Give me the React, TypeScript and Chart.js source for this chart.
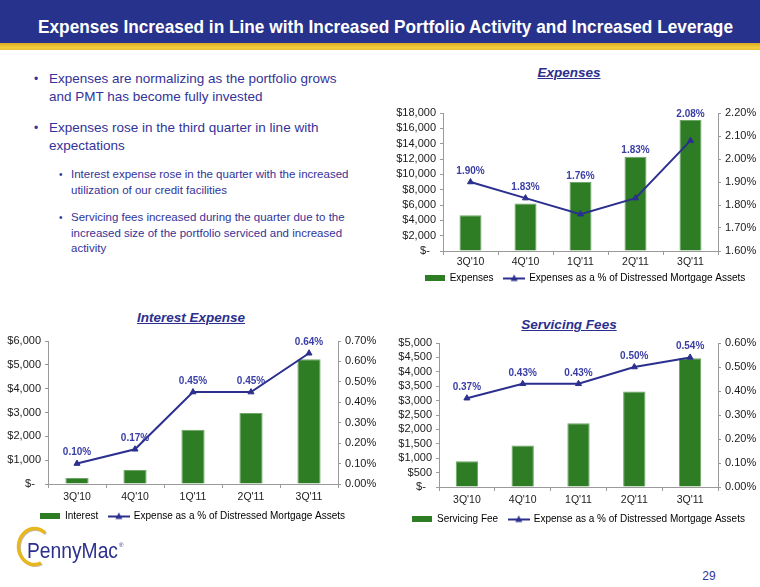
import React, { useEffect, useRef } from 'react';
import { Chart, registerables } from 'chart.js';
Chart.register(...registerables);

// ---------- data ----------
const quarters = ["3Q'10", "4Q'10", "1Q'11", "2Q'11", "3Q'11"];
const expenses = [4650, 6200, 9000, 12300, 17100];
const expensesPct = [1.9, 1.83, 1.76, 1.83, 2.08];
const interest = [250, 590, 2280, 2980, 5230];
const interestPct = [0.1, 0.17, 0.45, 0.45, 0.64];
const servicing = [890, 1440, 2210, 3320, 4470];
const servicingPct = [0.37, 0.43, 0.43, 0.5, 0.54];

const titleText = 'Expenses Increased in Line with Increased Portfolio Activity and Increased Leverage';

// ---------- styles ----------
const BAR_GREEN = '#2E7D25';
const BAR_EDGE = '#6FA566';
const NAVY = '#2B2F8E';
const LABEL_BLUE = '#3A3EA4';
const TEXT_BLUE = '#333399';
const AXIS_GRAY = '#9A9A9A';
const TICK_TEXT = '#1a1a1a';
const FONT = "'Liberation Sans', Arial, sans-serif";

Chart.defaults.font.family = FONT;

function fmtDollar(v: number) {
  if (v === 0) return '$-  ';
  return '$' + String(v).replace(/\B(?=(\d{3})+(?!\d))/g, ',');
}

function barSwatch() {
  const c = document.createElement('canvas');
  c.width = 20; c.height = 6;
  const g = c.getContext('2d')!;
  g.fillStyle = BAR_GREEN;
  g.fillRect(0, 0, 20, 6);
  return c;
}
function lineSwatch() {
  const c = document.createElement('canvas');
  c.width = 22; c.height = 9;
  const g = c.getContext('2d')!;
  g.strokeStyle = NAVY; g.lineWidth = 2;
  g.beginPath(); g.moveTo(0, 5); g.lineTo(22, 5); g.stroke();
  g.fillStyle = NAVY;
  g.beginPath(); g.moveTo(11, 1); g.lineTo(14.5, 7.5); g.lineTo(7.5, 7.5); g.closePath(); g.fill();
  return c;
}

const pctLabelPlugin = {
  id: 'pctLabels',
  afterDatasetsDraw(chart: any) {
    const barMeta = chart.getDatasetMeta(0);
    const lineMeta = chart.getDatasetMeta(1);
    const vals = chart.data.datasets[1].data as number[];
    const ctx = chart.ctx;
    ctx.save();
    ctx.font = `bold 10px ${FONT}`;
    ctx.fillStyle = LABEL_BLUE;
    ctx.textAlign = 'center';
    ctx.textBaseline = 'middle';
    lineMeta.data.forEach((pt: any, i: number) => {
      const bar = barMeta.data[i];
      const y = Math.min(pt.y - 11, bar.y - 6);
      ctx.fillText(vals[i].toFixed(2) + '%', pt.x, y);
    });
    ctx.restore();
  },
};

type PanelProps = {
  left: number; top: number; width: number; height: number;
  leftW: number; rightW: number; xH: number; xPad: number;
  bars: number[]; pct: number[]; barLabel: string; lineLabel: string;
  yMax: number; yStep: number; y1Min: number; y1Max: number;
};

function ChartPanel(p: PanelProps) {
  const ref = useRef<HTMLCanvasElement>(null);
  useEffect(() => {
    const bs = barSwatch();
    const ls = lineSwatch();
    const chart = new Chart(ref.current!, {
      type: 'bar',
      data: {
        labels: quarters,
        datasets: [
          {
            type: 'bar', label: p.barLabel, data: p.bars,
            backgroundColor: BAR_GREEN, borderColor: BAR_EDGE, borderWidth: 1,
            yAxisID: 'y', order: 1, barPercentage: 0.4, categoryPercentage: 1,
          } as any,
          {
            type: 'line', label: p.lineLabel, data: p.pct,
            borderColor: NAVY, backgroundColor: NAVY, borderWidth: 2,
            pointStyle: 'triangle', pointRadius: 3.5, pointBorderWidth: 1, pointBorderColor: NAVY,
            pointBackgroundColor: NAVY, tension: 0, yAxisID: 'y1', order: 0,
          } as any,
        ],
      },
      options: {
        animation: false,
        responsive: false,
        maintainAspectRatio: false,
        layout: { padding: { top: 20, left: 0, right: 0, bottom: 0 } },
        scales: {
          x: {
            offset: true,
            grid: { display: true, drawOnChartArea: false, drawTicks: true, tickLength: 4, color: AXIS_GRAY, offset: true },
            border: { display: true, color: AXIS_GRAY },
            ticks: { color: TICK_TEXT, font: { size: 10.5 }, padding: p.xPad, autoSkip: false, maxRotation: 0 },
            afterFit: (s: any) => { s.height = p.xH; },
          },
          y: {
            position: 'left', min: 0, max: p.yMax,
            ticks: { stepSize: p.yStep, autoSkip: false, callback: (v: any) => fmtDollar(Number(v)), color: TICK_TEXT, font: { size: 11 }, padding: 4 },
            grid: { drawOnChartArea: false, tickLength: 3, color: AXIS_GRAY },
            border: { display: true, color: AXIS_GRAY },
            afterFit: (s: any) => { s.width = p.leftW; },
          },
          y1: {
            position: 'right', min: p.y1Min, max: p.y1Max,
            ticks: { stepSize: 0.1, autoSkip: false, callback: (v: any) => Number(v).toFixed(2) + '%', color: TICK_TEXT, font: { size: 11 }, padding: 4 },
            grid: { drawOnChartArea: false, tickLength: 3, color: AXIS_GRAY },
            border: { display: true, color: AXIS_GRAY },
            afterFit: (s: any) => { s.width = p.rightW; },
          },
        },
        plugins: {
          tooltip: { enabled: false },
          legend: {
            position: 'bottom',
            labels: {
              usePointStyle: true, pointStyleWidth: 20, padding: 5,
              font: { size: 10 }, color: TICK_TEXT,
              generateLabels: () => [
                { text: p.barLabel + '  ', pointStyle: bs, fillStyle: BAR_GREEN, strokeStyle: BAR_GREEN, lineWidth: 0, hidden: false, datasetIndex: 0 } as any,
                { text: p.lineLabel, pointStyle: ls, fillStyle: NAVY, strokeStyle: NAVY, lineWidth: 0, hidden: false, datasetIndex: 1 } as any,
              ],
            },
          },
        },
      } as any,
      plugins: [pctLabelPlugin],
    });
    return () => chart.destroy();
  }, []);
  return (
    <canvas
      ref={ref}
      width={p.width}
      height={p.height}
      style={{ position: 'absolute', left: p.left, top: p.top, width: p.width, height: p.height }}
    />
  );
}

const chartTitle: React.CSSProperties = {
  position: 'absolute', color: NAVY, fontWeight: 'bold', fontStyle: 'italic',
  textDecoration: 'underline', fontSize: 13.5, fontFamily: FONT, transform: 'translate(-50%, -50%)',
  whiteSpace: 'nowrap', lineHeight: '16px',
};

const bullet: React.CSSProperties = { position: 'absolute', color: TEXT_BLUE, fontFamily: FONT, whiteSpace: 'nowrap' };

export default function App() {
  return (
    <div style={{ position: 'absolute', left: 0, top: 0, width: 760, height: 587, overflow: 'hidden', background: '#fff', fontFamily: FONT }}>
      {/* header */}
      <div style={{ position: 'absolute', left: 0, top: 0, width: 760, height: 43, background: '#27328C' }} />
      <div style={{ position: 'absolute', left: 0, top: 43, width: 760, height: 7, background: 'linear-gradient(#D9A91E, #F2CD3C 60%, #EBC23A)' }} />
      <svg style={{ position: 'absolute', left: 0, top: 0 }} width={760} height={50}>
        <text x={38} y={33} fill="#fff" fontSize={19} fontWeight="bold" fontFamily={FONT} textLength={695} lengthAdjust="spacingAndGlyphs">{titleText}</text>
      </svg>

      {/* bullets */}
      <div style={{ ...bullet, left: 34, top: 70, fontSize: 12, lineHeight: '18px' }}>•</div>
      <div style={{ ...bullet, left: 49, top: 70, fontSize: 13.5, lineHeight: '18px' }}>Expenses are normalizing as the portfolio grows<br />and PMT has become fully invested</div>
      <div style={{ ...bullet, left: 34, top: 119, fontSize: 12, lineHeight: '18px' }}>•</div>
      <div style={{ ...bullet, left: 49, top: 119, fontSize: 13.5, lineHeight: '18px' }}>Expenses rose in the third quarter in line with<br />expectations</div>
      <div style={{ ...bullet, left: 59, top: 167, fontSize: 10, lineHeight: '15.5px' }}>•</div>
      <div style={{ ...bullet, left: 71, top: 167, fontSize: 11.5, lineHeight: '15.5px' }}>Interest expense rose in the quarter with the increased<br />utilization of our credit facilities</div>
      <div style={{ ...bullet, left: 59, top: 210, fontSize: 10, lineHeight: '15.5px' }}>•</div>
      <div style={{ ...bullet, left: 71, top: 210, fontSize: 11.5, lineHeight: '15.5px' }}>Servicing fees increased during the quarter due to the<br />increased size of the portfolio serviced and increased<br />activity</div>

      {/* chart titles */}
      <div style={{ ...chartTitle, left: 569, top: 73 }}>Expenses</div>
      <div style={{ ...chartTitle, left: 191, top: 318 }}>Interest Expense</div>
      <div style={{ ...chartTitle, left: 569, top: 325 }}>Servicing Fees</div>

      {/* charts */}
      <ChartPanel left={383} top={93} width={404} height={200} leftW={60} rightW={69} xH={17} xPad={1}
        bars={expenses} pct={expensesPct} barLabel="Expenses" lineLabel="Expenses as a % of Distressed Mortgage Assets"
        yMax={18000} yStep={2000} y1Min={1.6} y1Max={2.2} />
      <ChartPanel left={0} top={321} width={385} height={210} leftW={48} rightW={47} xH={22} xPad={3}
        bars={interest} pct={interestPct} barLabel="Interest" lineLabel="Expense as a % of Distressed Mortgage Assets"
        yMax={6000} yStep={1000} y1Min={0} y1Max={0.7} />
      <ChartPanel left={385} top={323} width={387} height={211} leftW={54} rightW={54} xH={22} xPad={3}
        bars={servicing} pct={servicingPct} barLabel="Servicing Fee" lineLabel="Expense as a % of Distressed Mortgage Assets"
        yMax={5000} yStep={500} y1Min={0} y1Max={0.6} />

      {/* logo */}
      <svg style={{ position: 'absolute', left: 0, top: 520 }} width={160} height={67}>
        <path d="M 45 13 A 16 18 0 1 0 41 43" fill="none" stroke="#BDBDBD" strokeWidth={3} transform="translate(1,1)" />
        <path d="M 45 13 A 16 18 0 1 0 41 43" fill="none" stroke="#E8B71F" strokeWidth={3.5} />
        <text x={27} y={38} fill={NAVY} fontSize={22} fontFamily={FONT} textLength={91} lengthAdjust="spacingAndGlyphs">PennyMac</text>
        <text x={119} y={27} fill={NAVY} fontSize={6} fontFamily={FONT}>®</text>
      </svg>
      <div style={{ position: 'absolute', left: 709, top: 576, transform: 'translate(-50%, -50%)', color: TEXT_BLUE, fontSize: 12, fontFamily: FONT }}>29</div>
    </div>
  );
}
